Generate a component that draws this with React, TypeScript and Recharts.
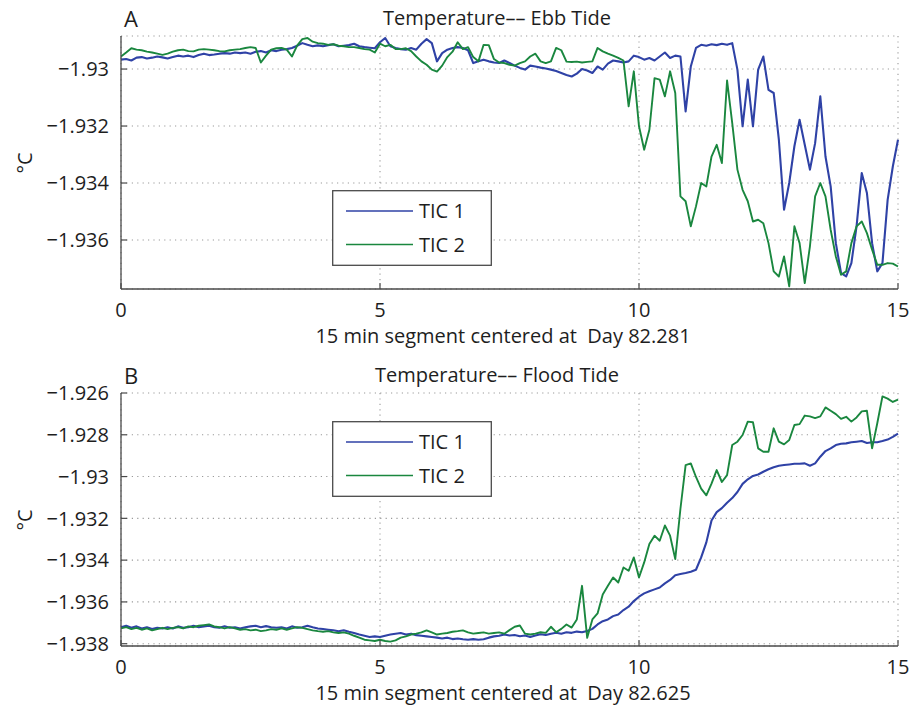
import { CartesianGrid, Legend, Line, LineChart, XAxis, YAxis } from 'recharts';

// sample times, minutes into the 15 min segment (0.1 min apart)
const MINUTES = Array.from({ length: 151 }, (_, i) => i / 10);

// Ebb tide, TIC 1 (°C)
const EBB_TIC1 = [
  -1.92967, -1.92965, -1.9297, -1.9296, -1.92958, -1.92963, -1.9296, -1.92956, -1.92959, -1.92963,
  -1.92958, -1.92953, -1.92956, -1.92953, -1.92958, -1.92951, -1.92946, -1.92951, -1.92949, -1.92946,
  -1.92944, -1.92946, -1.92942, -1.92944, -1.92942, -1.92946, -1.92939, -1.92937, -1.92942, -1.92934,
  -1.92937, -1.92932, -1.9293, -1.92926, -1.92918, -1.92909, -1.92915, -1.9292, -1.92917, -1.9292,
  -1.92916, -1.92913, -1.9292, -1.92918, -1.92916, -1.92911, -1.9292, -1.92923, -1.92925, -1.92927,
  -1.92906, -1.92891, -1.9292, -1.92926, -1.9293, -1.92932, -1.92926, -1.92932, -1.92911, -1.92895,
  -1.92909, -1.92973, -1.92944, -1.92932, -1.92926, -1.92923, -1.92926, -1.92934, -1.92979, -1.92973,
  -1.92967, -1.92973, -1.92977, -1.92979, -1.9297, -1.92979, -1.92988, -1.92996, -1.93002, -1.92988,
  -1.92991, -1.92995, -1.92998, -1.93002, -1.93007, -1.93014, -1.93021, -1.93026, -1.93016, -1.93,
  -1.93005, -1.93014, -1.92991, -1.93002, -1.92981, -1.9297, -1.92973, -1.92977, -1.92973, -1.92953,
  -1.92958, -1.92967, -1.92961, -1.9297, -1.92956, -1.92942, -1.92961, -1.92953, -1.92956, -1.93149,
  -1.92991, -1.92926, -1.92915, -1.92918, -1.92913, -1.92916, -1.92911, -1.92915, -1.92909, -1.93002,
  -1.93201, -1.93037, -1.93201, -1.93002, -1.92956, -1.93073, -1.93084, -1.93248, -1.93494, -1.934,
  -1.93271, -1.93178, -1.93266, -1.93353, -1.9326, -1.93096, -1.93307, -1.93412, -1.93611, -1.93716,
  -1.93728, -1.93681, -1.93552, -1.93365, -1.93435, -1.93611, -1.9371, -1.93681, -1.93459, -1.93342,
  -1.93248,
];

// Ebb tide, TIC 2 (°C)
const EBB_TIC2 = [
  -1.92956, -1.92942, -1.92927, -1.92932, -1.92934, -1.92939, -1.92942, -1.92946, -1.9295, -1.92946,
  -1.92939, -1.92934, -1.92932, -1.92937, -1.92938, -1.92932, -1.9293, -1.92932, -1.92934, -1.92937,
  -1.92938, -1.92934, -1.92932, -1.9293, -1.92926, -1.92923, -1.92926, -1.92977, -1.92953, -1.92932,
  -1.92927, -1.92926, -1.92932, -1.92956, -1.92918, -1.92895, -1.92891, -1.92904, -1.92909, -1.92911,
  -1.92915, -1.92913, -1.92918, -1.9292, -1.92923, -1.92923, -1.92926, -1.9293, -1.92932, -1.92942,
  -1.92911, -1.9292, -1.92915, -1.9293, -1.9293, -1.92927, -1.92937, -1.92956, -1.92973, -1.92985,
  -1.93002, -1.93009, -1.92988, -1.92958, -1.92939, -1.92906, -1.9293, -1.92923, -1.92958, -1.92973,
  -1.92915, -1.92916, -1.92965, -1.92977, -1.92979, -1.92985, -1.92988, -1.92979, -1.92973, -1.92956,
  -1.92946, -1.92973, -1.92979, -1.92973, -1.92926, -1.92934, -1.92974, -1.92975, -1.92974, -1.92977,
  -1.92975, -1.92973, -1.92926, -1.92938, -1.92946, -1.92953, -1.92961, -1.9297, -1.93131, -1.93008,
  -1.93201, -1.93283, -1.93213, -1.93032, -1.93037, -1.93096, -1.93008, -1.93084, -1.93447, -1.93464,
  -1.93552, -1.93482, -1.934, -1.93412, -1.93307, -1.93266, -1.9333, -1.9304, -1.9319, -1.93353,
  -1.93424, -1.93464, -1.93535, -1.93529, -1.93541, -1.93611, -1.9371, -1.93728, -1.93658, -1.93763,
  -1.93552, -1.93611, -1.93751, -1.93622, -1.93447, -1.934, -1.93447, -1.93564, -1.93658, -1.93722,
  -1.9371, -1.93611, -1.93552, -1.93535, -1.93576, -1.93634, -1.93687, -1.93687, -1.93681, -1.93683,
  -1.93693,
];

// Flood tide, TIC 1 (°C)
const FLOOD_TIC1 = [
  -1.93721, -1.93714, -1.93724, -1.93717, -1.93727, -1.93721, -1.9373, -1.93724, -1.93727, -1.93721,
  -1.93727, -1.93717, -1.93724, -1.93721, -1.93714, -1.93721, -1.93717, -1.93714, -1.93721, -1.93724,
  -1.93717, -1.93724, -1.93721, -1.93727, -1.93721, -1.93717, -1.93714, -1.93721, -1.93716, -1.93721,
  -1.93724, -1.93721, -1.93727, -1.93717, -1.93724, -1.93721, -1.93714, -1.93721, -1.93727, -1.9373,
  -1.93733, -1.93736, -1.9374, -1.93736, -1.93743, -1.93749, -1.93756, -1.93762, -1.93768, -1.93765,
  -1.93768, -1.93762, -1.93756, -1.93752, -1.93749, -1.93756, -1.93752, -1.93759, -1.93762, -1.93765,
  -1.93768, -1.93771, -1.93775, -1.93771, -1.93778, -1.93775, -1.93779, -1.93781, -1.93778, -1.93781,
  -1.93779, -1.93771, -1.93765, -1.93762, -1.93756, -1.93761, -1.93758, -1.93764, -1.93761, -1.93768,
  -1.93761, -1.93755, -1.93758, -1.93752, -1.93748, -1.93752, -1.93745, -1.93748, -1.93742, -1.93745,
  -1.93739, -1.93729, -1.93708, -1.93692, -1.93684, -1.93668, -1.9366, -1.93639, -1.93623, -1.93596,
  -1.93575, -1.93559, -1.93549, -1.9354, -1.93531, -1.93511, -1.93495, -1.93472, -1.93466, -1.93462,
  -1.93456, -1.93446, -1.93387, -1.93315, -1.9321, -1.9317, -1.93151, -1.93125, -1.93103, -1.93074,
  -1.93035, -1.93013, -1.92997, -1.9299, -1.92977, -1.92965, -1.92955, -1.92948, -1.92945, -1.92942,
  -1.92939, -1.92939, -1.92937, -1.92948, -1.92937, -1.92905, -1.92878, -1.92865, -1.92849, -1.92843,
  -1.92841, -1.92836, -1.92833, -1.9283, -1.92839, -1.92836, -1.92836, -1.9283, -1.92823, -1.9281,
  -1.92794,
];

// Flood tide, TIC 2 (°C)
const FLOOD_TIC2 = [
  -1.93727, -1.93721, -1.9373, -1.93724, -1.93733, -1.93727, -1.93736, -1.9373, -1.93724, -1.9373,
  -1.93724, -1.93721, -1.93727, -1.93717, -1.93721, -1.93714, -1.93711, -1.93708, -1.93717, -1.93721,
  -1.93727, -1.93721, -1.93727, -1.93733, -1.9373, -1.93736, -1.93733, -1.9374, -1.93736, -1.9373,
  -1.93733, -1.93727, -1.93733, -1.93727, -1.93721, -1.93724, -1.9373, -1.93736, -1.9374, -1.93743,
  -1.9374, -1.93746, -1.93749, -1.93746, -1.93752, -1.93762, -1.93771, -1.93781, -1.93784, -1.93787,
  -1.93781, -1.93787, -1.9379, -1.93784, -1.93771, -1.93765, -1.93756, -1.93752, -1.93746, -1.93736,
  -1.93746, -1.93756, -1.93752, -1.93749, -1.93743, -1.9374, -1.93736, -1.93746, -1.93752, -1.93749,
  -1.93746, -1.93752, -1.93749, -1.93746, -1.93752, -1.93735, -1.93719, -1.93713, -1.93752, -1.93756,
  -1.93752, -1.93745, -1.93748, -1.93719, -1.93745, -1.93729, -1.93708, -1.93723, -1.93684, -1.93523,
  -1.93772, -1.93684, -1.93655, -1.93564, -1.93523, -1.93483, -1.93507, -1.93435, -1.93451, -1.93387,
  -1.93483, -1.93411, -1.93323, -1.93283, -1.93307, -1.93234, -1.93283, -1.93395, -1.93154, -1.92945,
  -1.92937, -1.93002, -1.93058, -1.9309, -1.93034, -1.92969, -1.93026, -1.92993, -1.92849, -1.92833,
  -1.92801, -1.92737, -1.9274, -1.92865, -1.92881, -1.92881, -1.92769, -1.92833, -1.92846, -1.92825,
  -1.92753, -1.92749, -1.92708, -1.92712, -1.9272, -1.92712, -1.92669, -1.92685, -1.92701, -1.92724,
  -1.92714, -1.92737, -1.92717, -1.92688, -1.92685, -1.92865, -1.92745, -1.92616, -1.92627, -1.92643,
  -1.92632,
];

const X_TICKS = [0, 5, 10, 15];
const EBB_Y_TICKS = [-1.936, -1.934, -1.932, -1.93];
const FLOOD_Y_TICKS = [-1.938, -1.936, -1.934, -1.932, -1.93, -1.928, -1.926];
const EBB_DOMAIN = [-1.93772, -1.92884];
const FLOOD_DOMAIN = [-1.93811, -1.926];

const SERIES = [
  { key: 'tic1', name: 'TIC 1', color: '#2f42a6', width: 2.1 },
  { key: 'tic2', name: 'TIC 2', color: '#1a873f', width: 1.9 },
];

const FONT = '"Open Sans", "DejaVu Sans", sans-serif';
const INK = '#1e1e1e';
const AXIS = '#4a4a4a';
const GRID = '#9a9a9a';
const W = 909;
const H = 360;

const ebbRows = MINUTES.map((t, i) => ({ t, tic1: EBB_TIC1[i], tic2: EBB_TIC2[i] }));
const floodRows = MINUTES.map((t, i) => ({ t, tic1: FLOOD_TIC1[i], tic2: FLOOD_TIC2[i] }));

const fmtTemp = (v: number) => '\u2212' + String(Math.abs(v));

// matlab-style ticks: short marks pointing into the plot box
function BottomTick({ x, y, payload }: any) {
  return (
    <g>
      <line x1={x} x2={x} y1={y} y2={y - 6} stroke={AXIS} strokeWidth={1.2} />
      <text x={x} y={y + 28} textAnchor="middle" fontSize={20} fontFamily={FONT} fill={INK}>
        {payload.value}
      </text>
    </g>
  );
}

function TopTick({ x, y }: any) {
  return <line x1={x} x2={x} y1={y} y2={y + 6} stroke={AXIS} strokeWidth={1.2} />;
}

function LeftTick({ x, y, payload }: any) {
  return (
    <g>
      <line x1={x} x2={x + 6} y1={y} y2={y} stroke={AXIS} strokeWidth={1.2} />
      <text x={x - 12} y={y} dy="0.36em" textAnchor="end" fontSize={20} fontFamily={FONT} fill={INK}>
        {fmtTemp(payload.value)}
      </text>
    </g>
  );
}

function RightTick({ x, y }: any) {
  return <line x1={x} x2={x - 6} y1={y} y2={y} stroke={AXIS} strokeWidth={1.2} />;
}

function LegendBox() {
  return (
    <svg width={160} height={76} style={{ display: 'block' }}>
      <rect x={0.7} y={0.7} width={158.6} height={74.6} fill="#fff" stroke={AXIS} strokeWidth={1.3} />
      {SERIES.map((s, i) => {
        const y = i === 0 ? 21 : 54.5;
        return (
          <g key={s.key}>
            <line x1={14} x2={81} y1={y} y2={y} stroke={s.color} strokeWidth={1.3} />
            <text x={87} y={y} dy="0.36em" fontSize={20} fontFamily={FONT} fill={INK}>
              {s.name}
            </text>
          </g>
        );
      })}
    </svg>
  );
}

interface PanelProps {
  rows: { t: number; tic1: number; tic2: number }[];
  domain: number[];
  yTicks: number[];
  legendTop: number;
}

function Panel({ rows, domain, yTicks, legendTop }: PanelProps) {
  const axisLine = { stroke: AXIS, strokeWidth: 1.3 };
  return (
    <LineChart width={W} height={H} data={rows} margin={{ top: 36, right: 11, bottom: 41, left: 0 }}>
      <CartesianGrid stroke={GRID} strokeDasharray="1.2 4.2" strokeWidth={1.1} />
      <XAxis
        dataKey="t"
        type="number"
        domain={[0, 15]}
        ticks={X_TICKS}
        interval={0}
        height={30}
        tickSize={0}
        tickMargin={0}
        tickLine={false}
        axisLine={axisLine}
        tick={<BottomTick />}
      />
      <XAxis
        xAxisId="top"
        orientation="top"
        dataKey="t"
        type="number"
        domain={[0, 15]}
        ticks={X_TICKS}
        interval={0}
        height={0}
        tickSize={0}
        tickMargin={0}
        tickLine={false}
        axisLine={axisLine}
        tick={<TopTick />}
      />
      <YAxis
        type="number"
        domain={domain}
        ticks={yTicks}
        interval={0}
        allowDataOverflow
        width={121}
        tickSize={0}
        tickMargin={0}
        tickLine={false}
        axisLine={axisLine}
        tick={<LeftTick />}
      />
      <YAxis
        yAxisId="right"
        orientation="right"
        type="number"
        domain={domain}
        ticks={yTicks}
        interval={0}
        allowDataOverflow
        width={0}
        tickSize={0}
        tickMargin={0}
        tickLine={false}
        axisLine={axisLine}
        tick={<RightTick />}
      />
      <Legend
        layout="horizontal"
        verticalAlign="middle"
        align="center"
        wrapperStyle={{ left: 332, top: legendTop, width: 160, height: 76, transform: 'none' }}
        content={() => <LegendBox />}
      />
      {SERIES.map((s) => (
        <Line
          key={s.key}
          type="linear"
          dataKey={s.key}
          name={s.name}
          stroke={s.color}
          strokeWidth={s.width}
          strokeLinejoin="round"
          dot={false}
          isAnimationActive={false}
        />
      ))}
    </LineChart>
  );
}

function Labels({ top, letter, title, caption }: { top: number; letter: string; title: string; caption: string }) {
  const plotMid = top + 36 + 127;
  return (
    <g fontFamily={FONT} fill={INK}>
      <text x={124} y={top + 27} fontSize={22}>
        {letter}
      </text>
      <text x={497} y={top + 25} fontSize={20} textAnchor="middle">
        {title}
      </text>
      <text x={503} y={top + 343} fontSize={20} textAnchor="middle" style={{ whiteSpace: 'pre' }}>
        {caption}
      </text>
      <text
        x={24}
        y={plotMid}
        fontSize={20}
        textAnchor="middle"
        dominantBaseline="central"
        transform={`rotate(-90 24 ${plotMid})`}
      >
        °C
      </text>
    </g>
  );
}

export default function App() {
  return (
    <div style={{ position: 'absolute', left: 0, top: 0, width: W, height: 707, background: '#fff' }}>
      <div style={{ position: 'absolute', left: 0, top: 0 }}>
        <Panel rows={ebbRows} domain={EBB_DOMAIN} yTicks={EBB_Y_TICKS} legendTop={190} />
      </div>
      <div style={{ position: 'absolute', left: 0, top: 357 }}>
        <Panel rows={floodRows} domain={FLOOD_DOMAIN} yTicks={FLOOD_Y_TICKS} legendTop={64} />
      </div>
      <svg width={W} height={707} style={{ position: 'absolute', left: 0, top: 0, pointerEvents: 'none' }}>
        <Labels top={0} letter="A" title="Temperature–– Ebb Tide" caption="15 min segment centered at  Day 82.281" />
        <Labels top={357} letter="B" title="Temperature–– Flood Tide" caption="15 min segment centered at  Day 82.625" />
      </svg>
    </div>
  );
}
